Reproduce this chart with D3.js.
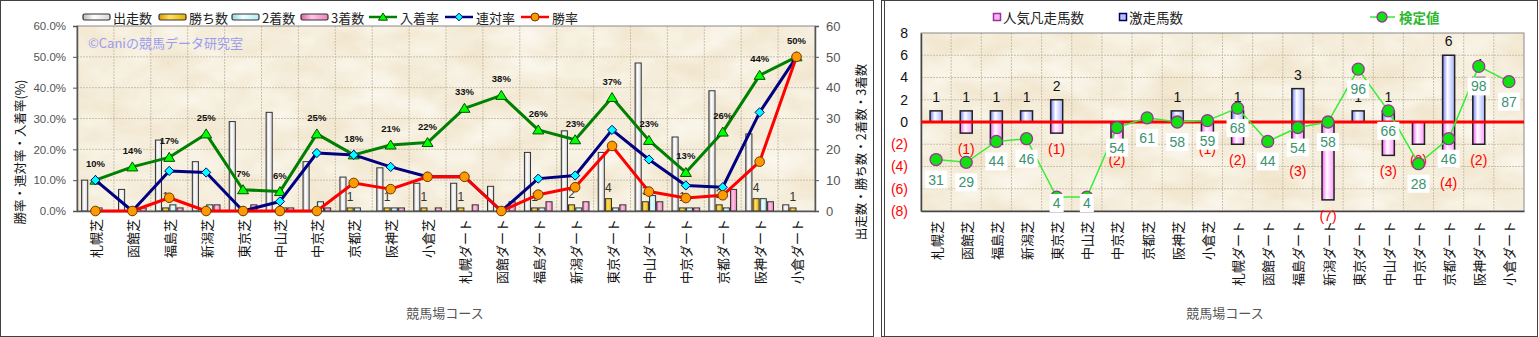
<!DOCTYPE html>
<html>
<head>
<meta charset="utf-8">
<script src="https://cdn.jsdelivr.net/npm/d3@7"></script>
<style>
  html, body { margin: 0; padding: 0; background: #fff; }
  svg { display: block; }
  text { font-family: "Liberation Sans", Arial, sans-serif; }
  .jp { font-family: "Noto Sans CJK JP", "Noto Sans", sans-serif; }
</style>
</head>
<body>
<script>
// ---- data -------------------------------------------------------------
const categories = ["札幌芝","函館芝","福島芝","新潟芝","東京芝","中山芝","中京芝","京都芝","阪神芝","小倉芝",
                    "札幌ダート","函館ダート","福島ダート","新潟ダート","東京ダート","中山ダート","中京ダート","京都ダート","阪神ダート","小倉ダート"];

// counts (right axis of the left panel)
const starters = [10, 7, 23, 16, 29, 32, 16, 11, 14, 9,   9, 8, 19, 26, 19, 48, 24, 39, 25, 2];
const wins     = [ 0, 0,  1,  0,  0,  0,  0,  1,  1, 1,   1, 0,  1,  2,  4,  3,  1,  2,  4, 1];
const seconds  = [ 1, 0,  2,  2,  0,  1,  3,  1,  1, 0,   0, 0,  1,  1,  1,  5,  1,  1,  4, 0];
const thirds   = [ 0, 1,  1,  2,  2,  1,  1,  0,  1, 1,   2, 3,  3,  3,  2,  3,  1,  7,  3, 0];

// rates in percent (left axis of the left panel)
const placeRate    = [10.0, 14.3, 17.4, 25.0, 6.9, 6.3, 25.0, 18.2, 21.4, 22.2, 33.3, 37.5, 26.3, 23.1, 36.8, 22.9, 12.5, 25.6, 44.0, 50.0];
const quinellaRate = [10.0,  0.0, 13.0, 12.5, 0.0, 3.1, 18.8, 18.2, 14.3, 11.1, 11.1,  0.0, 10.5, 11.5, 26.3, 16.7,  8.3,  7.7, 32.0, 50.0];
const winRate      = [ 0.0,  0.0,  4.3,  0.0, 0.0, 0.0,  0.0,  9.1,  7.1, 11.1, 11.1,  0.0,  5.3,  7.7, 21.1,  6.3,  4.2,  5.1, 16.0, 50.0];

const pctTicks = [0, 10, 20, 30, 40, 50, 60];
const cntTicks = [0, 10, 20, 30, 40, 50, 60];

// right panel
const upsetCount = [1, 1, 1, 1, 2, 0, 0, 0, 1, 0,   1, 0, 3, 0, 1, 1, 0, 6, 4, 0];   // 激走馬数
const flopCount  = [0, 1, 2, 0, 1, 0, 2, 0, 0, 1,   2, 0, 3, 7, 0, 3, 2, 4, 2, 0];   // 人気凡走馬数
const testScore  = [31, 29, 44, 46, 4, 4, 54, 61, 58, 59,   68, 44, 54, 58, 96, 66, 28, 46, 98, 87]; // 検定値
const diffTicks  = [-8, -6, -4, -2, 0, 2, 4, 6, 8];

// ---- svg & shared defs -----------------------------------------------
const W = 1539, H = 337;
const svg = d3.select("body").append("svg").attr("width", W).attr("height", H);
svg.append("rect").attr("width", W).attr("height", H).attr("fill", "#fff");
const defs = svg.append("defs");

function hGrad(id, edge, mid, edge2) {
  const g = defs.append("linearGradient").attr("id", id)
    .attr("x1", "0").attr("x2", "1").attr("y1", "0").attr("y2", "0");
  g.append("stop").attr("offset", "0%").attr("stop-color", edge);
  g.append("stop").attr("offset", "40%").attr("stop-color", mid);
  g.append("stop").attr("offset", "100%").attr("stop-color", edge2 || edge);
}
hGrad("gStart", "#b8b8b8", "#ffffff", "#d8d8d8");
hGrad("gWin",   "#d89a00", "#ffe060", "#e8b000");
hGrad("gSec",   "#90d8e0", "#f0ffff", "#b0eef4");
hGrad("gThi",   "#e060a8", "#ffc8e4", "#ec80bc");
hGrad("gUp",    "#6f7cff", "#ffffff", "#a8b2ff");
hGrad("gDown",  "#ff55ff", "#ffffff", "#ff99ff");

// parchment texture for plot areas
const paper = defs.append("filter").attr("id", "paper")
  .attr("x", 0).attr("y", 0).attr("width", 1).attr("height", 1);
paper.append("feTurbulence").attr("type", "fractalNoise")
  .attr("baseFrequency", "0.02 0.035").attr("numOctaves", 3).attr("seed", 7).attr("result", "n");
paper.append("feColorMatrix").attr("in", "n").attr("type", "matrix")
  .attr("values", "0 0 0 0 1  0 0 0 0 1  0 0 0 0 0.98  1.0 0 0 0 -0.05");

function plotBackground(g, x, y, w, h) {
  g.append("rect").attr("x", x).attr("y", y).attr("width", w).attr("height", h).attr("fill", "#efe2c6");
  g.append("rect").attr("x", x).attr("y", y).attr("width", w).attr("height", h)
    .attr("fill", "#fff").attr("filter", "url(#paper)").attr("opacity", 0.9);
}

// panel frames
svg.append("rect").attr("x", 0.5).attr("y", 0.5).attr("width", 873).attr("height", 336)
  .attr("fill", "none").attr("stroke", "#404040").attr("stroke-width", 1);
svg.append("rect").attr("x", 881.5).attr("y", 0.5).attr("width", 656).attr("height", 336)
  .attr("fill", "none").attr("stroke", "#404040").attr("stroke-width", 1);
svg.append("line").attr("x1", 884.5).attr("x2", 884.5).attr("y1", 0).attr("y2", 337)
  .attr("stroke", "#404040").attr("stroke-width", 1);

// vertical category labels
function categoryLabels(g, x, top) {
  g.selectAll("text.cat").data(categories).join("text")
    .attr("class", "cat jp")
    .attr("transform", d => `translate(${x(d) + x.bandwidth() / 2},${top}) rotate(-90)`)
    .attr("text-anchor", "end")
    .attr("dominant-baseline", "central")
    .attr("font-size", 13)
    .attr("fill", "#111")
    .text(d => d);
}

// =======================================================================
// Left panel: counts and rates per course
// =======================================================================
const L = { x0: 77, x1: 815, y0: 26, y1: 211 };
const gl = svg.append("g");
plotBackground(gl, L.x0, L.y0, L.x1 - L.x0, L.y1 - L.y0);

const xL = d3.scaleBand().domain(categories).range([L.x0, L.x1]);
const yPct = d3.scaleLinear().domain([0, 60]).range([L.y1, L.y0]);
const yCnt = d3.scaleLinear().domain([0, 60]).range([L.y1, L.y0]);
const bwL = xL.bandwidth();

// grid
gl.append("g").selectAll("line").data(pctTicks.slice(1, -1)).join("line")
  .attr("x1", L.x0).attr("x2", L.x1).attr("y1", d => yPct(d)).attr("y2", d => yPct(d))
  .attr("stroke", "#cbc0aa").attr("stroke-dasharray", "2,1").attr("stroke-width", 1);
gl.append("g").selectAll("line").data(categories.slice(1)).join("line")
  .attr("x1", d => xL(d)).attr("x2", d => xL(d)).attr("y1", L.y0).attr("y2", L.y1)
  .attr("stroke", "#cbc0aa").attr("stroke-dasharray", "2,1").attr("stroke-width", 1);
gl.append("rect").attr("x", L.x0).attr("y", L.y0).attr("width", L.x1 - L.x0).attr("height", L.y1 - L.y0)
  .attr("fill", "none").attr("stroke", "#8a8a8a");

// grouped bars
const barKeys = ["starters", "wins", "seconds", "thirds"];
const barFill = { starters: "url(#gStart)", wins: "url(#gWin)", seconds: "url(#gSec)", thirds: "url(#gThi)" };
const barValues = { starters, wins, seconds, thirds };
const xSub = d3.scaleBand().domain(barKeys).range([bwL * 0.125, bwL * 0.875]).paddingInner(0.15);

const groups = gl.append("g").selectAll("g").data(categories).join("g")
  .attr("transform", d => `translate(${xL(d)},0)`);
groups.selectAll("rect").data((c, i) => barKeys.map(k => ({ key: k, v: barValues[k][i] })))
  .join("rect")
  .filter(d => d.v > 0)
  .attr("x", d => xSub(d.key))
  .attr("y", d => yCnt(d.v))
  .attr("width", xSub.bandwidth())
  .attr("height", d => yCnt(0) - yCnt(d.v))
  .attr("fill", d => barFill[d.key])
  .attr("stroke", "#333").attr("stroke-width", 1);

// axes
const axLeft = gl.append("g").attr("transform", `translate(${L.x0},0)`)
  .call(d3.axisLeft(yPct).tickValues(pctTicks).tickFormat(d => d.toFixed(1) + "%").tickSize(4).tickPadding(7));
const axRight = gl.append("g").attr("transform", `translate(${L.x1},0)`)
  .call(d3.axisRight(yCnt).tickValues(cntTicks).tickSize(4).tickPadding(7));
const axBottom = gl.append("g").attr("transform", `translate(0,${L.y1})`)
  .call(d3.axisBottom(xL).tickSize(0).tickFormat(""));
[axLeft, axRight, axBottom].forEach(a => {
  a.select(".domain").attr("stroke", "#555").attr("stroke-width", 1.5);
  a.selectAll(".tick line").attr("stroke", "#555");
  a.selectAll("text").attr("font-family", "Liberation Sans, Arial, sans-serif").attr("fill", "#555");
});
axLeft.selectAll("text").attr("font-size", 11.5);
axRight.selectAll("text").attr("font-size", 13);

// win-count labels
gl.append("g").selectAll("text").data(categories.map((c, i) => ({ c, v: wins[i] })).filter(d => d.v > 0))
  .join("text")
  .attr("x", d => xL(d.c) + xSub("wins") + xSub.bandwidth() / 2)
  .attr("y", d => yCnt(d.v) - 7)
  .attr("text-anchor", "middle").attr("font-size", 12).attr("fill", "#333")
  .text(d => d.v);

// rate lines
const trianglePath = "M0,-5L5.5,4L-5.5,4Z";
const diamondPath = "M0,-4.6L4.6,0L0,4.6L-4.6,0Z";
const cx = c => xL(c) + bwL / 2;
function rateSeries(values, color) {
  const pts = categories.map((c, i) => ({ c, v: values[i] }));
  gl.append("path").datum(pts)
    .attr("d", d3.line().x(d => cx(d.c)).y(d => yPct(d.v)))
    .attr("fill", "none").attr("stroke", color).attr("stroke-width", 3).attr("stroke-linejoin", "round");
  return pts;
}
const placePts = rateSeries(placeRate, "#008000");
gl.append("g").selectAll("path").data(placePts).join("path")
  .attr("d", trianglePath).attr("transform", d => `translate(${cx(d.c)},${yPct(d.v)})`)
  .attr("fill", "#00ff00").attr("stroke", "#005000").attr("stroke-width", 1);
const quinPts = rateSeries(quinellaRate, "#000080");
gl.append("g").selectAll("path").data(quinPts).join("path")
  .attr("d", diamondPath).attr("transform", d => `translate(${cx(d.c)},${yPct(d.v)})`)
  .attr("fill", "#00ffff").attr("stroke", "#000080").attr("stroke-width", 1);
const winPts = rateSeries(winRate, "#ff0000");
gl.append("g").selectAll("circle").data(winPts).join("circle")
  .attr("cx", d => cx(d.c)).attr("cy", d => yPct(d.v)).attr("r", 4.8)
  .attr("fill", "#ff9900").attr("stroke", "#6a3a00").attr("stroke-width", 1);

// place-rate labels
gl.append("g").selectAll("text").data(placePts).join("text")
  .attr("x", d => cx(d.c)).attr("y", d => yPct(d.v) - 13)
  .attr("text-anchor", "middle").attr("font-size", 9.5).attr("font-weight", "bold").attr("fill", "#111")
  .text(d => Math.round(d.v) + "%");

// watermark
gl.append("text").attr("class", "jp").attr("x", 88).attr("y", 48)
  .attr("font-size", 13).attr("fill", "#9a9cf0").text("©Caniの競馬データ研究室");

categoryLabels(gl, xL, 219);

// titles
gl.append("text").attr("class", "jp")
  .attr("transform", `translate(19,152) rotate(-90)`)
  .attr("text-anchor", "middle").attr("dominant-baseline", "central")
  .attr("font-size", 12.5).attr("fill", "#111").text("勝率・連対率・入着率(%)");
gl.append("text").attr("class", "jp")
  .attr("transform", `translate(860,152) rotate(-90)`)
  .attr("text-anchor", "middle").attr("dominant-baseline", "central")
  .attr("font-size", 12.5).attr("fill", "#111").text("出走数・勝ち数・2着数・3着数");
gl.append("text").attr("class", "jp").attr("x", 445).attr("y", 318)
  .attr("text-anchor", "middle").attr("font-size", 13).attr("fill", "#555").text("競馬場コース");

// legend
const legL = [
  { x: 83,  label: "出走数", type: "bar", fill: "url(#gStart)" },
  { x: 159, label: "勝ち数", type: "bar", fill: "url(#gWin)" },
  { x: 232, label: "2着数",  type: "bar", fill: "url(#gSec)" },
  { x: 301, label: "3着数",  type: "bar", fill: "url(#gThi)" },
  { x: 369, label: "入着率", type: "line", color: "#008000", marker: "tri" },
  { x: 445, label: "連対率", type: "line", color: "#000080", marker: "dia" },
  { x: 521, label: "勝率",   type: "line", color: "#ff0000", marker: "cir" }
];
const lg = gl.append("g").selectAll("g").data(legL).join("g")
  .attr("transform", d => `translate(${d.x},17)`);
lg.filter(d => d.type === "bar").append("rect")
  .attr("x", 0).attr("y", -3).attr("width", 27).attr("height", 6).attr("rx", 1.5)
  .attr("fill", d => d.fill).attr("stroke", "#333").attr("stroke-width", 1.2);
lg.filter(d => d.type === "line").append("line")
  .attr("x1", 0).attr("x2", 28).attr("y1", 0).attr("y2", 0)
  .attr("stroke", d => d.color).attr("stroke-width", 2.5);
lg.filter(d => d.marker === "tri").append("path").attr("d", "M0,-4L4.5,3.2L-4.5,3.2Z")
  .attr("transform", "translate(14,0)").attr("fill", "#00ff00").attr("stroke", "#005000");
lg.filter(d => d.marker === "dia").append("path").attr("d", "M0,-3.8L3.8,0L0,3.8L-3.8,0Z")
  .attr("transform", "translate(14,0)").attr("fill", "#00ffff").attr("stroke", "#000080");
lg.filter(d => d.marker === "cir").append("circle").attr("cx", 14).attr("cy", 0).attr("r", 4)
  .attr("fill", "#ff9900").attr("stroke", "#6a3a00");
lg.append("text").attr("class", "jp")
  .attr("x", d => d.type === "bar" ? 30 : 31).attr("y", 0).attr("dominant-baseline", "central")
  .attr("font-size", 13).attr("fill", "#222").text(d => d.label);

// =======================================================================
// Right panel: upset / flop counts and test score
// =======================================================================
const R = { x0: 921, x1: 1524, y0: 33, y1: 211 };
const gr = svg.append("g");
plotBackground(gr, R.x0, R.y0, R.x1 - R.x0, R.y1 - R.y0);

const xR = d3.scaleBand().domain(categories).range([R.x0, R.x1]);
const yDiff = d3.scaleLinear().domain([-8, 8]).range([R.y1, R.y0]);
const yScore = d3.scaleLinear().domain([-6, 122]).range([R.y1, R.y0]);
const bwR = xR.bandwidth();
const cxR = c => xR(c) + bwR / 2;

gr.append("g").selectAll("line").data(diffTicks.slice(1, -1)).join("line")
  .attr("x1", R.x0).attr("x2", R.x1).attr("y1", d => yDiff(d)).attr("y2", d => yDiff(d))
  .attr("stroke", "#cbc0aa").attr("stroke-dasharray", "2,1");
gr.append("g").selectAll("line").data(categories.slice(1)).join("line")
  .attr("x1", d => xR(d)).attr("x2", d => xR(d)).attr("y1", R.y0).attr("y2", R.y1)
  .attr("stroke", "#cbc0aa").attr("stroke-dasharray", "2,1");
gr.append("rect").attr("x", R.x0).attr("y", R.y0).attr("width", R.x1 - R.x0).attr("height", R.y1 - R.y0)
  .attr("fill", "none").attr("stroke", "#8a8a8a");

const axL2 = gr.append("g").attr("transform", `translate(${R.x0},0)`)
  .call(d3.axisLeft(yDiff).tickValues(diffTicks).tickSize(0).tickPadding(13)
    .tickFormat(d => d < 0 ? `(${-d})` : `${d}`));
axL2.select(".domain").attr("stroke", "#444").attr("stroke-width", 1.5);
axL2.selectAll("text").attr("font-family", "Liberation Sans, Arial, sans-serif").attr("font-size", 14)
  .attr("fill", d => d < 0 ? "#ff0000" : "#111");
const axB2 = gr.append("g").attr("transform", `translate(0,${R.y1})`)
  .call(d3.axisBottom(xR).tickSize(0).tickFormat(""));
axB2.select(".domain").attr("stroke", "#444").attr("stroke-width", 1.5);

const barW = 12;
const rows = categories.map((c, i) => ({ c, up: upsetCount[i], down: flopCount[i], s: testScore[i] }));

// flop bars (below zero) and upset bars (above zero)
gr.append("g").selectAll("rect").data(rows.filter(d => d.down > 0)).join("rect")
  .attr("x", d => cxR(d.c) - barW / 2).attr("y", yDiff(0))
  .attr("width", barW).attr("height", d => yDiff(-d.down) - yDiff(0))
  .attr("fill", "url(#gDown)").attr("stroke", "#222").attr("stroke-width", 1.5);
gr.append("g").selectAll("rect").data(rows.filter(d => d.up > 0)).join("rect")
  .attr("x", d => cxR(d.c) - barW / 2).attr("y", d => yDiff(d.up))
  .attr("width", barW).attr("height", d => yDiff(0) - yDiff(d.up))
  .attr("fill", "url(#gUp)").attr("stroke", "#222").attr("stroke-width", 1.5);

// bar value labels
gr.append("g").selectAll("text").data(rows.filter(d => d.up > 0)).join("text")
  .attr("x", d => cxR(d.c)).attr("y", d => yDiff(d.up) - 9)
  .attr("text-anchor", "middle").attr("font-size", 14).attr("fill", "#111").text(d => d.up);
gr.append("g").selectAll("text").data(rows.filter(d => d.down > 0)).join("text")
  .attr("x", d => cxR(d.c)).attr("y", d => yDiff(-d.down) + 21)
  .attr("text-anchor", "middle").attr("font-size", 14).attr("fill", "#ff0000").text(d => `(${d.down})`);

// zero line
gr.append("line").attr("x1", R.x0).attr("x2", R.x1).attr("y1", yDiff(0)).attr("y2", yDiff(0))
  .attr("stroke", "#ff0000").attr("stroke-width", 3);

// test score line
gr.append("path").datum(rows)
  .attr("d", d3.line().x(d => cxR(d.c)).y(d => yScore(d.s)))
  .attr("fill", "none").attr("stroke", "#33ee33").attr("stroke-width", 1.5);
gr.append("g").selectAll("circle").data(rows).join("circle")
  .attr("cx", d => cxR(d.c)).attr("cy", d => yScore(d.s)).attr("r", 6)
  .attr("fill", "#11e011").attr("stroke", "#993399").attr("stroke-width", 1.3);

// test score labels in white boxes
const scoreLab = gr.append("g").selectAll("g").data(rows).join("g")
  .attr("transform", d => `translate(${cxR(d.c)},${Math.min(yScore(d.s) + 20, 203)})`);
scoreLab.append("rect")
  .attr("x", d => String(d.s).length > 1 ? -11 : -7).attr("y", -9)
  .attr("width", d => String(d.s).length > 1 ? 22 : 14).attr("height", 18).attr("fill", "#fff");
scoreLab.append("text").attr("text-anchor", "middle").attr("dominant-baseline", "central")
  .attr("font-size", 14).attr("fill", "#3a9270").text(d => d.s);

categoryLabels(gr, xR, 221);
gr.append("text").attr("class", "jp").attr("x", 1225).attr("y", 318)
  .attr("text-anchor", "middle").attr("font-size", 13).attr("fill", "#555").text("競馬場コース");

// legend
const lg2 = gr.append("g");
lg2.append("rect").attr("x", 993.5).attr("y", 13.5).attr("width", 7).attr("height", 7)
  .attr("fill", "#ffb0ff").attr("stroke", "#993399").attr("stroke-width", 1.5);
lg2.append("text").attr("class", "jp").attr("x", 1003).attr("y", 17).attr("dominant-baseline", "central")
  .attr("font-size", 13.5).attr("fill", "#222").text("人気凡走馬数");
lg2.append("rect").attr("x", 1119.5).attr("y", 13.5).attr("width", 7).attr("height", 7)
  .attr("fill", "#b8c0ff").attr("stroke", "#000060").attr("stroke-width", 1.5);
lg2.append("text").attr("class", "jp").attr("x", 1129).attr("y", 17).attr("dominant-baseline", "central")
  .attr("font-size", 13.5).attr("fill", "#222").text("激走馬数");
lg2.append("line").attr("x1", 1370).attr("x2", 1395).attr("y1", 17).attr("y2", 17)
  .attr("stroke", "#33ee33").attr("stroke-width", 1.5);
lg2.append("circle").attr("cx", 1382).attr("cy", 17).attr("r", 5)
  .attr("fill", "#11e011").attr("stroke", "#993399").attr("stroke-width", 1.3);
lg2.append("text").attr("class", "jp").attr("x", 1399).attr("y", 17).attr("dominant-baseline", "central")
  .attr("font-size", 13.5).attr("font-weight", "bold").attr("fill", "#2fb82f").text("検定値");
</script>
</body>
</html>
